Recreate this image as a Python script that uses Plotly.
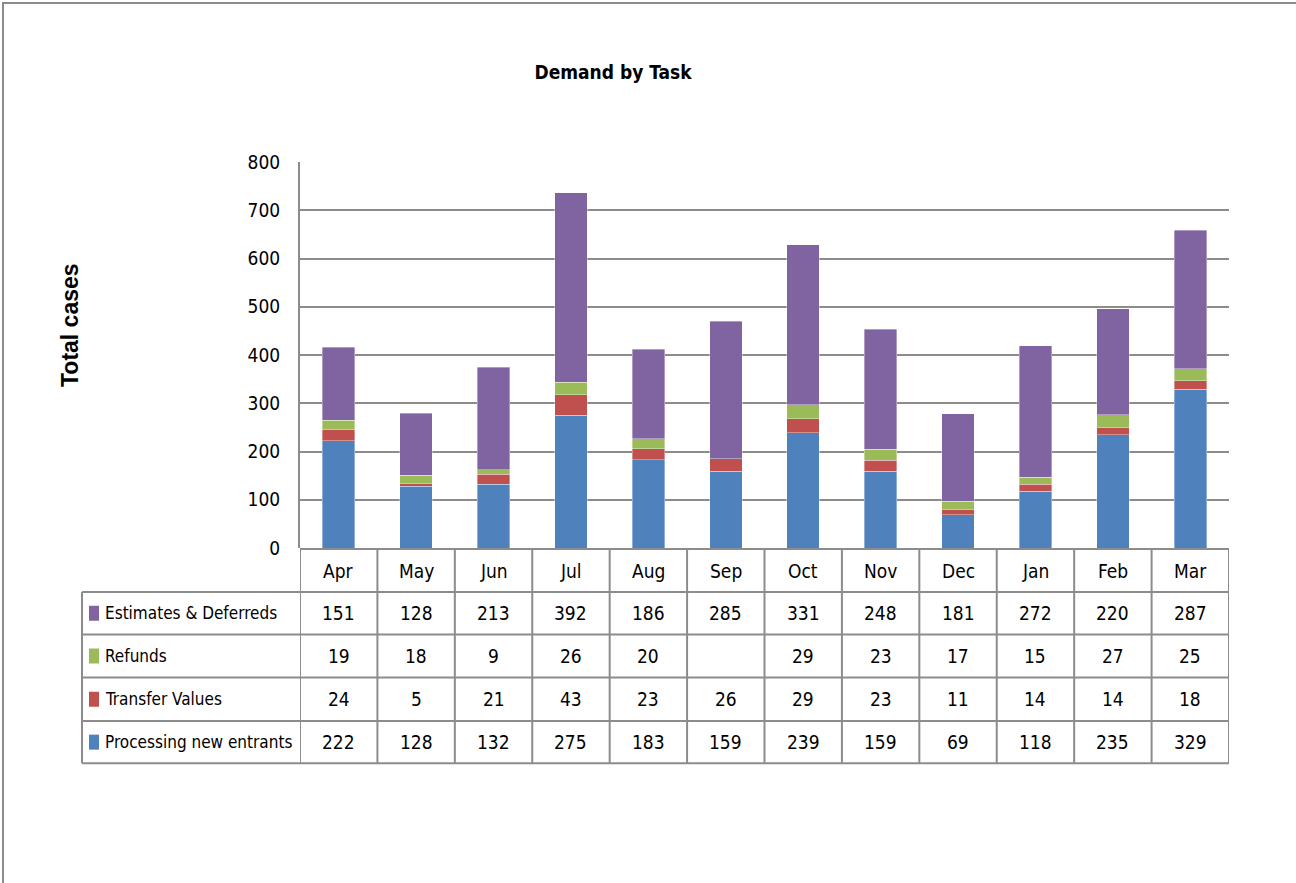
import plotly.graph_objects as go

months = ["Apr", "May", "Jun", "Jul", "Aug", "Sep", "Oct", "Nov", "Dec", "Jan", "Feb", "Mar"]
processing = [222, 128, 132, 275, 183, 159, 239, 159, 69, 118, 235, 329]
transfer = [24, 5, 21, 43, 23, 26, 29, 23, 11, 14, 14, 18]
refunds = [19, 18, 9, 26, 20, None, 29, 23, 17, 15, 27, 25]
estimates = [151, 128, 213, 392, 186, 285, 331, 248, 181, 272, 220, 287]

series_names = ["Processing new entrants", "Transfer Values", "Refunds", "Estimates & Deferreds"]
series_values = [processing, transfer, refunds, estimates]
colors = ["#4F81BD", "#C0504D", "#9BBB59", "#8064A2"]

W, H = 1296, 883
L, R, T, B = 300, 1229, 162, 548
FONT = "DejaVu Sans Condensed, Liberation Sans Narrow, Arial Narrow, sans-serif"
FS = 19
GRID = "#8c8c8c"

fig = go.Figure()
for name, vals, c in zip(series_names, series_values, colors):
    fig.add_trace(go.Bar(x=months, y=vals, name=name,
                         marker=dict(color=c, line=dict(color="rgba(255,255,255,0.6)", width=0.6)),
                         showlegend=False))


def py(p):
    return (B - p) / (B - T)


def px(p):
    return (p - L) / (R - L)


shapes = []
annotations = []
line = dict(color=GRID, width=2)

rows = [549, 592, 634.5, 677.5, 721, 763.3]
n = len(months)
shapes.append(dict(type="line", xref="paper", yref="paper", x0=0, x1=1, y0=py(rows[0]), y1=py(rows[0]), line=line))
for yy in rows[1:]:
    shapes.append(dict(type="line", xref="paper", yref="paper", x0=px(82), x1=1, y0=py(yy), y1=py(yy), line=line))
for i in range(n + 1):
    shapes.append(dict(type="line", xref="x", yref="paper", x0=i - 0.5, x1=i - 0.5,
                       y0=py(rows[0]), y1=py(rows[-1]), line=line))
shapes.append(dict(type="line", xref="paper", yref="paper", x0=px(82), x1=px(82),
                   y0=py(rows[1]), y1=py(rows[-1]), line=line))

txt = dict(family=FONT, size=FS, color="#000")
lbl = dict(family=FONT, size=17, color="#000")
for m in months:
    annotations.append(dict(x=m, y=py((rows[0] + rows[1]) / 2), xref="x", yref="paper", text=m,
                            xanchor="center", yanchor="middle", showarrow=False, font=txt))

order = list(range(len(series_names)))[::-1]
for r, si in enumerate(order):
    yc = (rows[r + 1] + rows[r + 2]) / 2
    shapes.append(dict(type="rect", xref="paper", yref="paper", x0=px(89), x1=px(99),
                       y0=py(yc - 7.5), y1=py(yc + 7.5), fillcolor=colors[si], line=dict(width=0)))
    annotations.append(dict(x=px(103), y=py(yc), xref="paper", yref="paper", text=series_names[si],
                            xanchor="left", yanchor="middle", showarrow=False, font=lbl))
    for m, v in zip(months, series_values[si]):
        if v is None:
            continue
        annotations.append(dict(x=m, y=py(yc), xref="x", yref="paper", text=str(v),
                                xanchor="center", yanchor="middle", showarrow=False, font=txt))

annotations.append(dict(x=px(70), y=py(325), xref="paper", yref="paper", text="<b>Total cases</b>",
                        xanchor="center", yanchor="middle", textangle=-90, showarrow=False,
                        font=dict(family="Liberation Sans, Arial, sans-serif", size=23, color="#000")))

shapes.append(dict(type="line", xref="paper", yref="paper", x0=px(2), x1=px(W + 5), y0=py(3), y1=py(3), line=line))
shapes.append(dict(type="line", xref="paper", yref="paper", x0=px(3), x1=px(3), y0=py(2), y1=py(H + 5), line=line))

fig.update_layout(
    width=W, height=H,
    margin=dict(l=L, r=W - R, t=T, b=H - B, autoexpand=False),
    barmode="stack", bargap=0.58,
    plot_bgcolor="white", paper_bgcolor="white",
    title=dict(text="<b>Demand by Task</b>", x=613 / W, xref="container", xanchor="center",
               y=1 - 72 / H, yref="container", yanchor="middle",
               font=dict(family=FONT, size=19, color="#000")),
    xaxis=dict(showticklabels=False, showgrid=False, showline=False, range=[-0.5, n - 0.5], fixedrange=True),
    yaxis=dict(range=[0, 800], dtick=100, showgrid=True, gridcolor=GRID, gridwidth=2,
               showline=True, linecolor=GRID, linewidth=2, ticks="", zeroline=False,
               ticklabelstandoff=14, tickfont=txt),
    shapes=shapes, annotations=annotations,
)
fig.write_html("out.html")
